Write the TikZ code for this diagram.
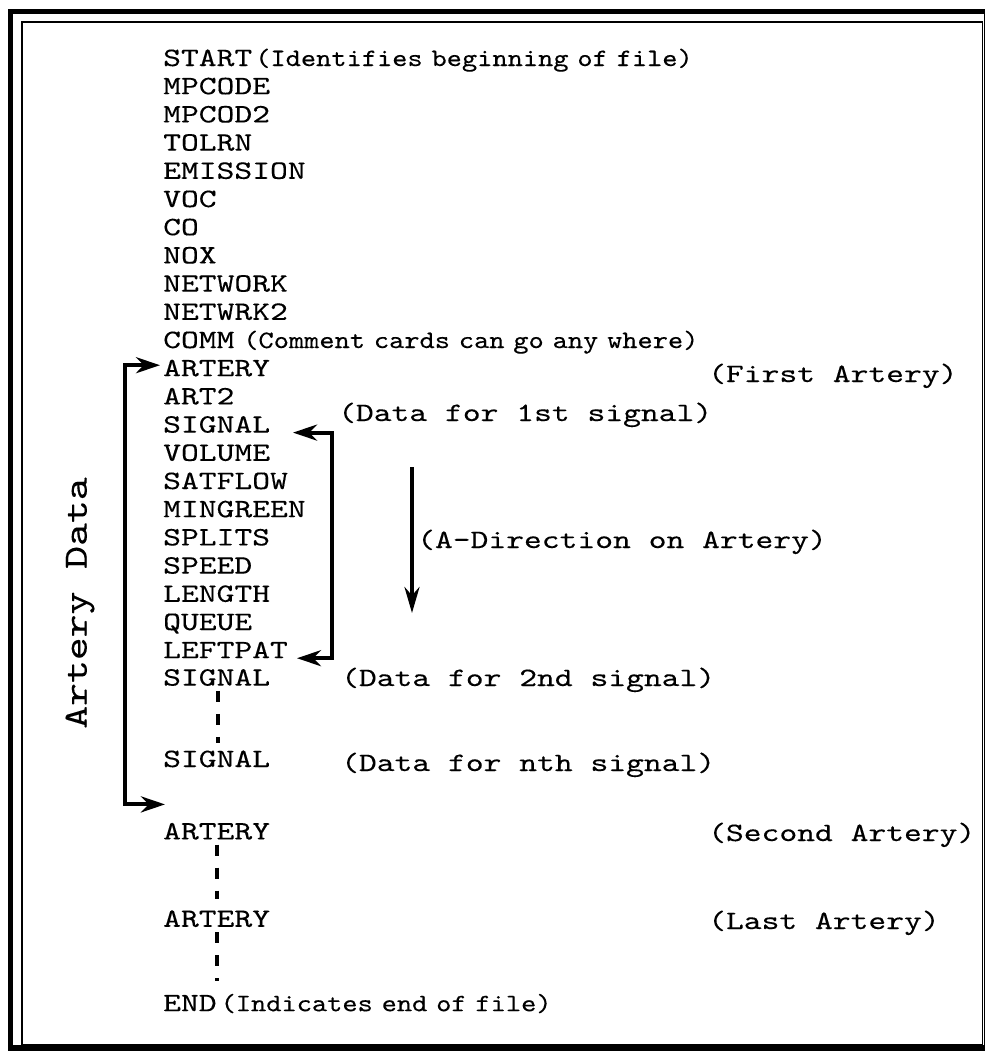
\documentclass[tikz,border=0pt]{standalone}
\usepackage{fontspec}
\setmonofont[FakeStretch=1.28, FakeBold=0.25]{lmmono10-regular.otf}
\newfontfamily\notefont[FakeStretch=1.16, FakeBold=0.25]{lmmono10-regular.otf}
\usepackage{tikz}
\usetikzlibrary{arrows.meta, positioning}

\begin{document}
\begin{tikzpicture}[
    x=1pt, y=1pt,
    node distance=5.8pt,
    item/.style={
        inner sep=0pt,
        text width=170pt,
        align=left,
        text height=17pt,
        text depth=5pt,
        font=\ttfamily\fontsize{26.5}{28}\selectfont
    },
    remark/.style={
        inner sep=0pt,
        anchor=base west,
        font=\ttfamily\fontsize{26.5}{28}\selectfont
    },
    twoway/.style={line width=4pt, {Stealth[length=24pt,width=16pt]}-{Stealth[length=24pt,width=16pt]}},
    oneway/.style={line width=4pt, -{Stealth[length=26pt,width=15pt]}},
    gap/.style={line width=3.2pt, dash pattern=on 11pt off 12pt}
]
\useasboundingbox (0,0) rectangle (985,-1053);

% Frame
\draw[line width=5.5pt] (10.5,-1048) -- (10.5,-11.5) -- (987,-11.5) -- (987,-1048) -- cycle;
\draw[line width=1.5pt] (22,-22) rectangle (982.5,-1045);

% The record sequence of the file
\node[item, anchor=base west] (start) at (163,-66) {START\rlap{\hspace{3pt}\fontsize{25}{27}\notefont(Identifies beginning of file)}};
\node[item, below=of start] (mpcode) {MPCODE};
\node[item, below=of mpcode] (mpcod2) {MPCOD2};
\node[item, below=of mpcod2] (tolrn) {TOLRN};
\node[item, below=of tolrn] (emission) {EMISSION};
\node[item, below=of emission] (voc) {VOC};
\node[item, below=of voc] (co) {CO};
\node[item, below=of co] (nox) {NOX};
\node[item, below=of nox] (network) {NETWORK};
\node[item, below=of network] (netwrk2) {NETWRK2};
\node[item, below=of netwrk2] (comm) {COMM\rlap{\fontsize{25}{27}\notefont\ (Comment cards can go any where)}};
\node[item, below=of comm] (artfirst) {ARTERY};
\node[item, below=of artfirst] (art2) {ART2};
\node[item, below=of art2] (signal) {SIGNAL};
\node[item, below=of signal] (volume) {VOLUME};
\node[item, below=of volume] (satflow) {SATFLOW};
\node[item, below=of satflow] (mingreen) {MINGREEN};
\node[item, below=of mingreen] (splits) {SPLITS};
\node[item, below=of splits] (speed) {SPEED};
\node[item, below=of speed] (length) {LENGTH};
\node[item, below=of length] (queue) {QUEUE};
\node[item, below=of queue] (leftpat) {LEFTPAT};
\node[item, below=5pt of leftpat] (signalb) {SIGNAL};
\node[item, below=59pt of signalb] (signaln) {SIGNAL};
\node[item, below=50pt of signaln] (artsecond) {ARTERY};
\node[item, below=65pt of artsecond] (artlast) {ARTERY};
\node[item, below=62pt of artlast] (fileend) {END\rlap{\hspace{4pt}\fontsize{25}{27}\notefont(Indicates end of file)}};

% Remarks on the right
\node[remark] (firstlbl) at (708,-382) {(First Artery)};
\node[remark] (sig1lbl) at (338,-421) {(Data for 1st signal)};
\node[remark] (dirlbl) at (417,-548) {(A-Direction on Artery)};
\node[remark] (sig2lbl) at (341,-686) {(Data for 2nd signal)};
\node[remark] (signlbl) at (341,-771) {(Data for nth signal)};
\node[remark] (secondlbl) at (708,-841) {(Second Artery)};
\node[remark] (lastlbl) at (708,-929) {(Last Artery)};
\node[remark, anchor=center, rotate=90, font=\ttfamily\fontsize{34}{36}\selectfont] (artdata) at (80,-603) {Artery Data};

% Brackets and direction
\coordinate (dirtop) at (412,-467);
\coordinate (dirbot) at (412,-613);
\draw[twoway] ([shift={(-3pt,5pt)}]artfirst.west) -| ([shift={(-38pt,29pt)}]artsecond.west) -- ([shift={(2pt,29pt)}]artsecond.west);
\draw[twoway] ([shift={(130pt,-6pt)}]signal.west) -- ++(39pt,0) |- ([shift={(134pt,-6pt)}]leftpat.west);
\draw[oneway] (dirtop) -- (dirbot);

% Dotted continuation
\draw[gap, shorten >=7pt] ([xshift=55pt]signalb.south west) -- ([xshift=55pt]signaln.north west);
\draw[gap, shorten >=11pt] ([xshift=54pt]artsecond.south west) -- ([xshift=54pt]artlast.north west);
\draw[gap, shorten >=13pt] ([xshift=54pt]artlast.south west) -- ([xshift=54pt]fileend.north west);

\end{tikzpicture}
\end{document}
